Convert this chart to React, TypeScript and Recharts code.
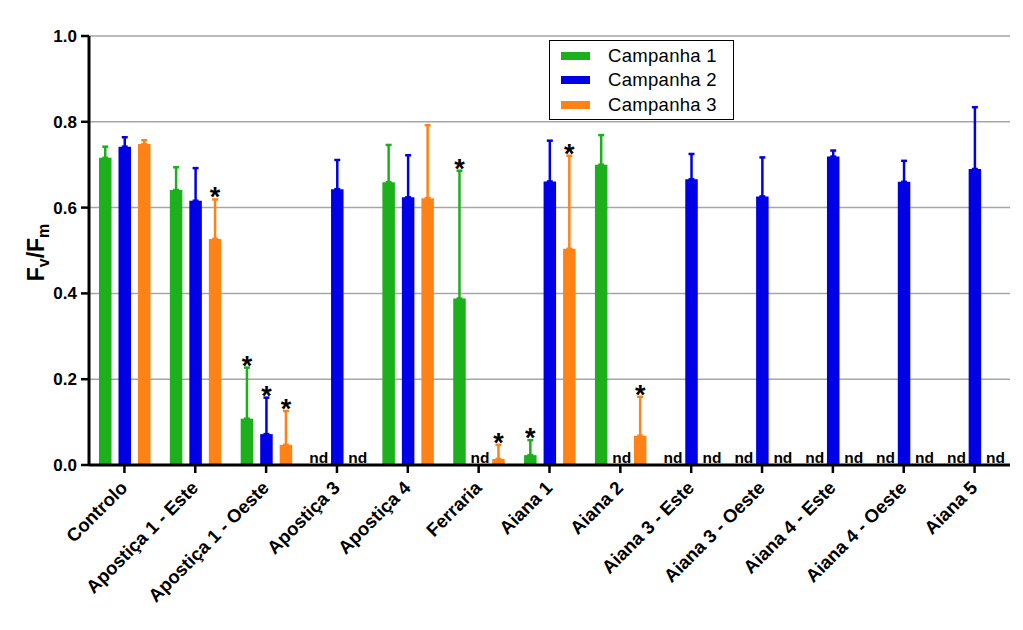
import React from 'react';
import { BarChart, Bar, XAxis, YAxis, CartesianGrid, ErrorBar, LabelList, Legend } from 'recharts';

const categories = [
  'Controlo', 'Apostiça 1 - Este', 'Apostiça 1 - Oeste', 'Apostiça 3', 'Apostiça 4', 'Ferraria',
  'Aiana 1', 'Aiana 2', 'Aiana 3 - Este', 'Aiana 3 - Oeste', 'Aiana 4 - Este', 'Aiana 4 - Oeste', 'Aiana 5',
];

// null = "nd" (not determined)
const campanha1: (number | null)[] = [0.716, 0.641, 0.108, null, 0.659, 0.388, 0.023, 0.700, null, null, null, null, null];
const campanha1Err: (number | null)[] = [0.026, 0.053, 0.119, null, 0.087, 0.298, 0.035, 0.069, null, null, null, null, null];
const campanha1Sig: boolean[] = [false, false, true, false, false, true, true, false, false, false, false, false, false];

const campanha2: (number | null)[] = [0.742, 0.616, 0.072, 0.643, 0.624, null, 0.661, null, 0.666, 0.626, 0.719, 0.660, 0.690];
const campanha2Err: (number | null)[] = [0.022, 0.076, 0.085, 0.068, 0.098, null, 0.095, null, 0.059, 0.091, 0.014, 0.049, 0.144];
const campanha2Sig: boolean[] = [false, false, true, false, false, false, false, false, false, false, false, false, false];

const campanha3: (number | null)[] = [0.748, 0.527, 0.047, null, 0.622, 0.014, 0.504, 0.068, null, null, null, null, null];
const campanha3Err: (number | null)[] = [0.009, 0.092, 0.079, null, 0.170, 0.033, 0.217, 0.091, null, null, null, null, null];
const campanha3Sig: boolean[] = [false, true, true, false, false, true, true, true, false, false, false, false, false];

const yTicks = [0, 0.2, 0.4, 0.6, 0.8, 1.0];
const seriesNames = ['Campanha 1', 'Campanha 2', 'Campanha 3'];
const seriesColors = ['#1cb01c', '#0000e6', '#ff8216'];

const FONT = '"Liberation Sans", Arial, Helvetica, sans-serif';

const data = categories.map((name, i) => ({
  name,
  idx: i,
  c1: campanha1[i] ?? 0,
  c2: campanha2[i] ?? 0,
  c3: campanha3[i] ?? 0,
  e1: campanha1Err[i],
  e2: campanha2Err[i],
  e3: campanha3Err[i],
}));

const errAccessor = (key: string) => (d: any) => {
  const row = d && d.payload && d.payload.name !== undefined ? d.payload : d;
  const e = row ? row[key] : null;
  return e == null ? undefined : [0, e];
};

const makeMarks = (values: (number | null)[], errs: (number | null)[], sigs: boolean[]) => (props: any) => {
  const vb = props.viewBox || {};
  const x = Number(vb.x ?? props.x);
  const y = Number(vb.y ?? props.y);
  const width = Number(vb.width ?? props.width);
  const height = Number(vb.height ?? props.height);
  const index = typeof props.value === 'number' ? props.value : undefined;
  if (index == null || isNaN(x)) return null;
  const v = values[index];
  const cx = x + width / 2;
  if (v == null) {
    return (
      <text key={`nd-${index}`} x={cx + 1} y={y + height - 2} textAnchor="middle" fontSize={15.5} fontWeight="bold" fill="#000" fontFamily={FONT}>
        nd
      </text>
    );
  }
  if (!sigs[index]) return null;
  const pxPerUnit = v > 0 ? height / v : 0;
  const top = y - (errs[index] ?? 0) * pxPerUnit;
  return (
    <text key={`sig-${index}`} x={cx} y={top + 7} textAnchor="middle" fontSize={27} fontWeight="bold" fill="#000" fontFamily={FONT}>
      *
    </text>
  );
};

const XTick = (props: any) => {
  const { x, y, payload } = props;
  return (
    <g transform={`translate(${x},${y})`}>
      <text x={4} y={14} transform="rotate(-45, 4, 14)" textAnchor="end" fontSize={18.5} fontWeight="bold" fill="#000" fontFamily={FONT}>
        {payload.value}
      </text>
    </g>
  );
};

const YLabel = (props: any) => {
  const vb = props.viewBox || { x: 0, y: 36, height: 429 };
  const cy = vb.y + vb.height / 2 + 2;
  const cx = 44;
  return (
    <text x={cx} y={cy} transform={`rotate(-90, ${cx}, ${cy})`} textAnchor="middle" fontSize={23} fontWeight="bold" fill="#000" fontFamily={FONT}>
      F
      <tspan fontSize={16} dy={5}>v</tspan>
      <tspan dy={-5}>/F</tspan>
      <tspan fontSize={16} dy={5}>m</tspan>
    </text>
  );
};

const LegendBox = () => (
  <div
    style={{
      border: '1.5px solid #000',
      background: '#fff',
      width: 185,
      height: 80,
      boxSizing: 'border-box',
      paddingTop: 3,
      fontFamily: FONT,
    }}
  >
    {seriesNames.map((n, i) => (
      <div key={n} style={{ height: 24.3, display: 'flex', alignItems: 'center' }}>
        <div style={{ width: 29, height: 8, background: seriesColors[i], marginLeft: 11 }} />
        <span style={{ marginLeft: 18, fontSize: 18.5, color: '#000', letterSpacing: 0.3 }}>{n}</span>
      </div>
    ))}
  </div>
);

export default function App() {
  const valuesList = [campanha1, campanha2, campanha3];
  const errList = [campanha1Err, campanha2Err, campanha3Err];
  const sigList = [campanha1Sig, campanha2Sig, campanha3Sig];
  const keys = ['c1', 'c2', 'c3'];
  const errKeys = ['e1', 'e2', 'e3'];
  return (
    <div style={{ position: 'absolute', left: 0, top: 0, width: 1023, height: 630, background: '#fff' }}>
      <BarChart
        width={1023}
        height={630}
        data={data}
        margin={{ top: 36, right: 13, left: 0, bottom: 0 }}
        barSize={12.5}
        barGap={7}
      >
        <CartesianGrid vertical={false} stroke="#a6a6a6" strokeWidth={1.5} />
        <XAxis
          dataKey="name"
          height={165}
          interval={0}
          tick={<XTick />}
          axisLine={{ stroke: '#000', strokeWidth: 3 }}
          tickLine={{ stroke: '#000', strokeWidth: 2.5 }}
          tickSize={8}
        />
        <YAxis
          width={89}
          domain={[0, 1]}
          ticks={yTicks}
          interval={0}
          tickFormatter={(v: number) => v.toFixed(1)}
          tick={{ fontSize: 17, fontWeight: 'bold', fill: '#000', fontFamily: FONT }}
          axisLine={{ stroke: '#000', strokeWidth: 3 }}
          tickLine={{ stroke: '#000', strokeWidth: 2.5 }}
          tickSize={8}
          tickMargin={4}
          label={<YLabel />}
        />
        <Legend
          layout="horizontal"
          verticalAlign="middle"
          align="center"
          content={<LegendBox />}
          wrapperStyle={{ position: 'absolute', left: 549, top: 40, width: 185, height: 80 }}
        />
        {keys.map((k, i) => (
          <Bar
            key={k}
            dataKey={k}
            name={seriesNames[i]}
            fill={seriesColors[i]}
            isAnimationActive={false}
            minPointSize={0.01}
          >
            <ErrorBar dataKey={errAccessor(errKeys[i])} width={3} stroke={seriesColors[i]} strokeWidth={2.5} direction="y" />
            <LabelList dataKey="idx" content={makeMarks(valuesList[i], errList[i], sigList[i])} />
          </Bar>
        ))}
      </BarChart>
    </div>
  );
}
